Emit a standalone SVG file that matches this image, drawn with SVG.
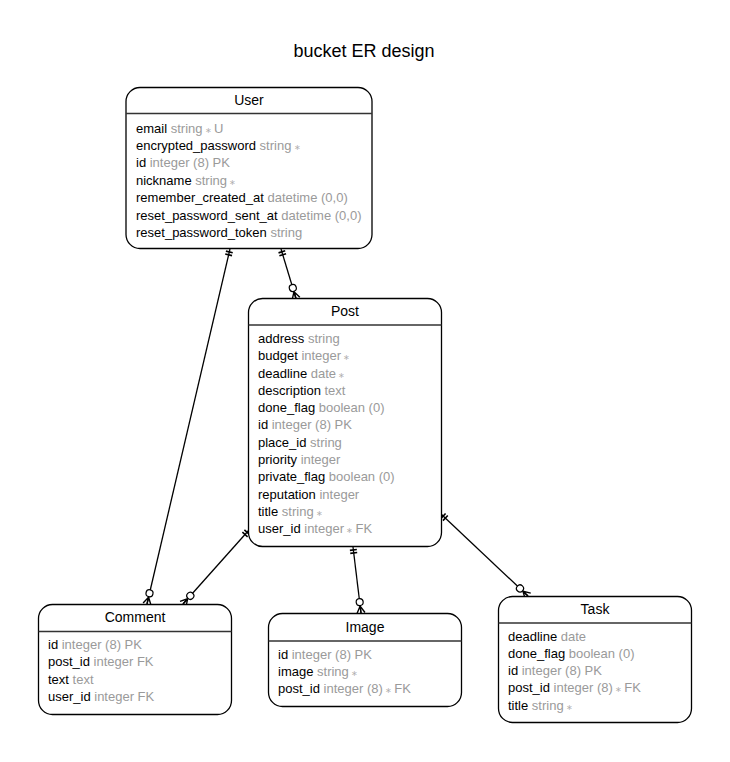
<svg xmlns="http://www.w3.org/2000/svg" width="730" height="762" viewBox="0 0 730 762">
<style>
  .box { fill: #ffffff; stroke: #000000; stroke-width: 1.3; }
  .sep { stroke: #333333; stroke-width: 1.3; }
  .ttl { font-family: "Liberation Sans", Arial, sans-serif; font-size: 14px; fill: #000; text-anchor: middle; }
  .row { font-family: "Liberation Sans", Arial, sans-serif; font-size: 13px; fill: #000; }
  .t { fill: #9a9a9a; }
  .st { fill: #b0b0b0; font-size: 8px; }
  .main { font-family: "Liberation Sans", Arial, sans-serif; font-size: 18px; fill: #000; text-anchor: middle; }
  .edge { fill: none; stroke: #000; stroke-width: 1.3; marker-start: url(#one); marker-end: url(#many); }
</style>
<defs>
  <marker id="one" markerUnits="userSpaceOnUse" markerWidth="20" markerHeight="20" refX="0" refY="0" orient="auto" overflow="visible">
    <path d="M3,-3.5 V3.5 M6,-3.5 V3.5" stroke="#000" stroke-width="1.6" fill="none"/>
  </marker>
  <marker id="many" markerUnits="userSpaceOnUse" markerWidth="20" markerHeight="20" refX="0" refY="0" orient="auto" overflow="visible">
    <path d="M-7,0 L0,-4 M-7,0 L0,4 M-7,0 L0,0" stroke="#000" stroke-width="1.4" fill="none"/>
    <circle cx="-11" cy="0" r="3.5" fill="#fff" stroke="#000" stroke-width="1.2"/>
  </marker>
</defs>
<rect width="730" height="762" fill="#fff"/>
<text class="main" x="364" y="57">bucket ER design</text>

<g id="connectors">
  <path class="edge" d="M230,249 L147,604"/>
  <path class="edge" d="M281,249 L296,298.5"/>
  <path class="edge" d="M249,530 L183,604"/>
  <path class="edge" d="M353,547 L361,613"/>
  <path class="edge" d="M441,514 L528,596"/>
</g>

<g id="User">
  <rect class="box" x="126" y="87.5" width="246" height="161" rx="14"/>
  <line class="sep" x1="126" y1="113.5" x2="372" y2="113.5"/>
  <text class="ttl" x="249" y="105">User</text>
  <text class="row" x="136" y="132.5">email <tspan class="t">string</tspan><tspan class="st"> ∗ </tspan><tspan class="t">U</tspan></text>
  <text class="row" x="136" y="149.9">encrypted_password <tspan class="t">string</tspan><tspan class="st"> ∗</tspan></text>
  <text class="row" x="136" y="167.3">id <tspan class="t">integer (8) PK</tspan></text>
  <text class="row" x="136" y="184.7">nickname <tspan class="t">string</tspan><tspan class="st"> ∗</tspan></text>
  <text class="row" x="136" y="202.1">remember_created_at <tspan class="t">datetime (0,0)</tspan></text>
  <text class="row" x="136" y="219.5">reset_password_sent_at <tspan class="t">datetime (0,0)</tspan></text>
  <text class="row" x="136" y="236.9">reset_password_token <tspan class="t">string</tspan></text>
</g>

<g id="Post">
  <rect class="box" x="248.5" y="298.5" width="193" height="248" rx="14"/>
  <line class="sep" x1="248.5" y1="325" x2="441.5" y2="325"/>
  <text class="ttl" x="345" y="316">Post</text>
  <text class="row" x="258" y="343">address <tspan class="t">string</tspan></text>
  <text class="row" x="258" y="360.3">budget <tspan class="t">integer</tspan><tspan class="st"> ∗</tspan></text>
  <text class="row" x="258" y="377.6">deadline <tspan class="t">date</tspan><tspan class="st"> ∗</tspan></text>
  <text class="row" x="258" y="394.8">description <tspan class="t">text</tspan></text>
  <text class="row" x="258" y="412.1">done_flag <tspan class="t">boolean (0)</tspan></text>
  <text class="row" x="258" y="429.4">id <tspan class="t">integer (8) PK</tspan></text>
  <text class="row" x="258" y="446.7">place_id <tspan class="t">string</tspan></text>
  <text class="row" x="258" y="463.9">priority <tspan class="t">integer</tspan></text>
  <text class="row" x="258" y="481.2">private_flag <tspan class="t">boolean (0)</tspan></text>
  <text class="row" x="258" y="498.5">reputation <tspan class="t">integer</tspan></text>
  <text class="row" x="258" y="515.7">title <tspan class="t">string</tspan><tspan class="st"> ∗</tspan></text>
  <text class="row" x="258" y="533">user_id <tspan class="t">integer</tspan><tspan class="st"> ∗ </tspan><tspan class="t">FK</tspan></text>
</g>

<g id="Comment">
  <rect class="box" x="38.5" y="604.5" width="193" height="110" rx="14"/>
  <line class="sep" x1="38.5" y1="631.5" x2="231.5" y2="631.5"/>
  <text class="ttl" x="135" y="622">Comment</text>
  <text class="row" x="48" y="649">id <tspan class="t">integer (8) PK</tspan></text>
  <text class="row" x="48" y="666.3">post_id <tspan class="t">integer FK</tspan></text>
  <text class="row" x="48" y="683.6">text <tspan class="t">text</tspan></text>
  <text class="row" x="48" y="700.9">user_id <tspan class="t">integer FK</tspan></text>
</g>

<g id="Image">
  <rect class="box" x="268.5" y="613.5" width="193" height="93" rx="14"/>
  <line class="sep" x1="268.5" y1="641" x2="461.5" y2="641"/>
  <text class="ttl" x="365" y="632">Image</text>
  <text class="row" x="278" y="658.5">id <tspan class="t">integer (8) PK</tspan></text>
  <text class="row" x="278" y="675.8">image <tspan class="t">string</tspan><tspan class="st"> ∗</tspan></text>
  <text class="row" x="278" y="693.1">post_id <tspan class="t">integer (8)</tspan><tspan class="st"> ∗ </tspan><tspan class="t">FK</tspan></text>
</g>

<g id="Task">
  <rect class="box" x="498.5" y="596.5" width="193" height="126" rx="14"/>
  <line class="sep" x1="498.5" y1="623" x2="691.5" y2="623"/>
  <text class="ttl" x="595" y="614">Task</text>
  <text class="row" x="508" y="640.5">deadline <tspan class="t">date</tspan></text>
  <text class="row" x="508" y="657.8">done_flag <tspan class="t">boolean (0)</tspan></text>
  <text class="row" x="508" y="675.1">id <tspan class="t">integer (8) PK</tspan></text>
  <text class="row" x="508" y="692.4">post_id <tspan class="t">integer (8)</tspan><tspan class="st"> ∗ </tspan><tspan class="t">FK</tspan></text>
  <text class="row" x="508" y="709.7">title <tspan class="t">string</tspan><tspan class="st"> ∗</tspan></text>
</g>
</svg>
